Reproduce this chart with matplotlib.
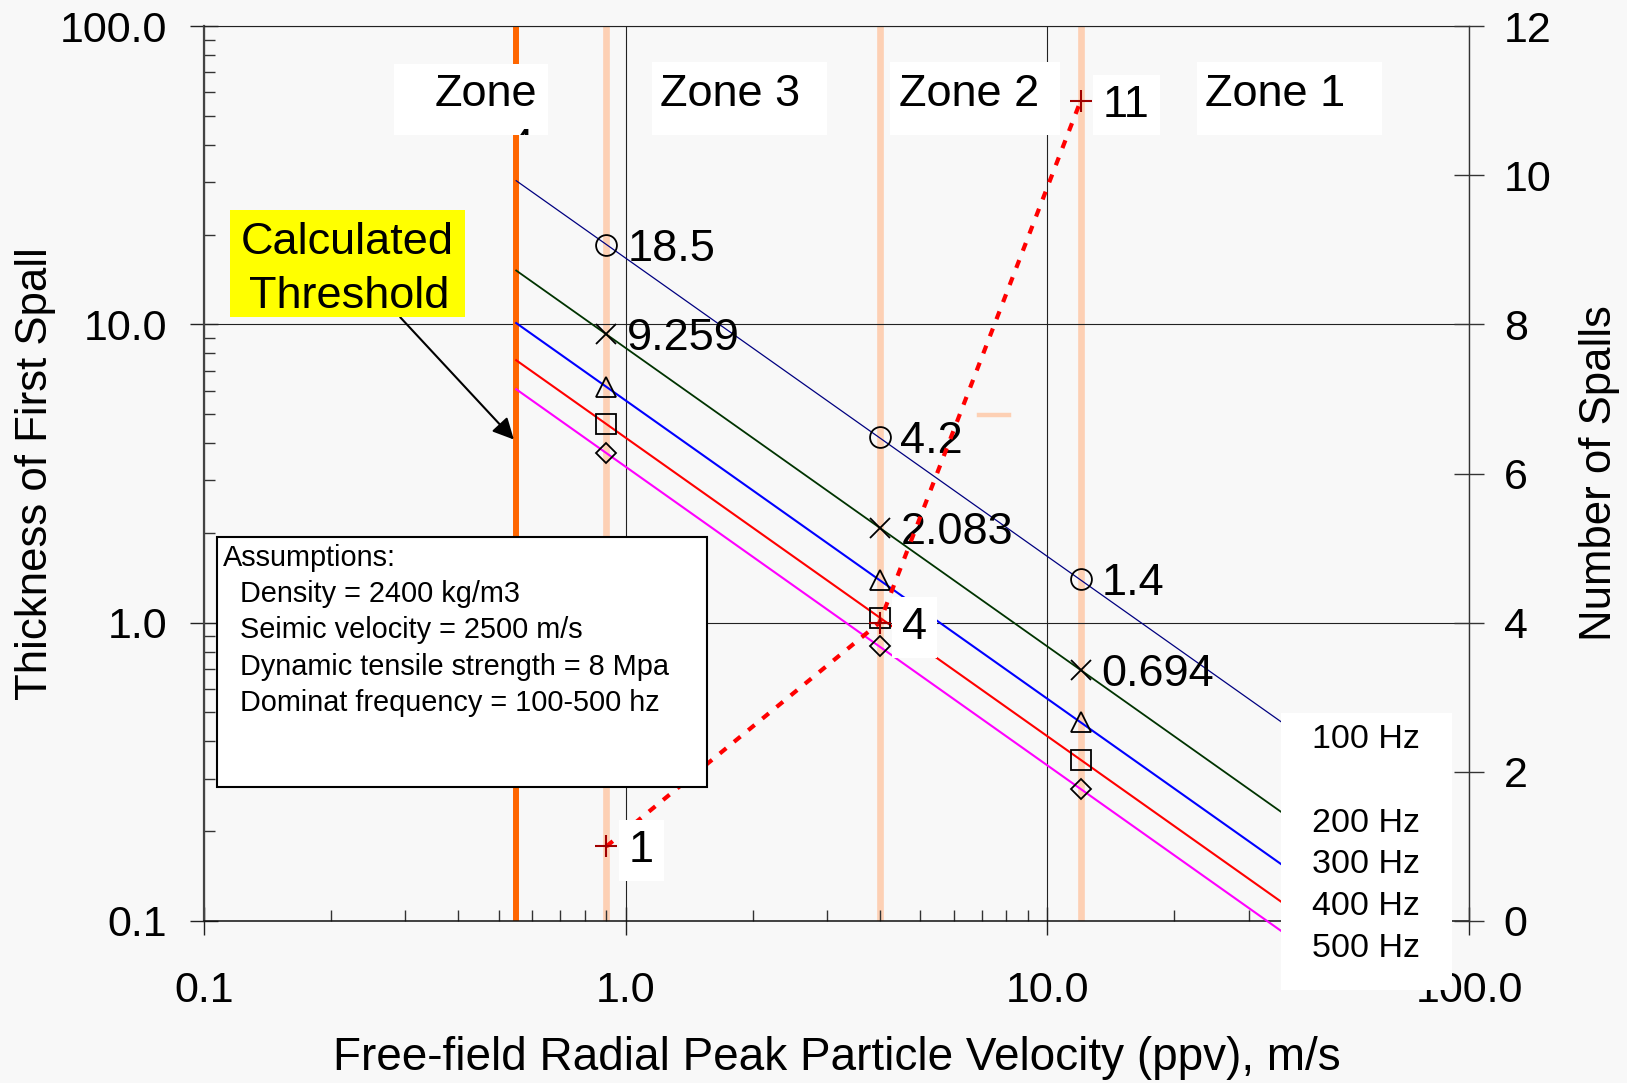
import matplotlib
matplotlib.use('Agg')
import matplotlib.pyplot as plt
from matplotlib.patches import Rectangle
from matplotlib.transforms import Bbox, TransformedBbox
from matplotlib.ticker import FixedLocator, FixedFormatter, LogLocator, NullFormatter

plt.rcParams['font.family'] = ['Liberation Sans', 'DejaVu Sans']

### Data

# particle velocities where spall thickness was evaluated (m/s)
ppv_points = [0.9, 4.0, 12.0]

# thickness of first spall at those velocities, per dominant frequency
thickness_100hz = [18.5, 4.2, 1.4]
thickness_200hz = [9.259, 2.083, 0.694]
thickness_300hz = [6.17, 1.39, 0.463]
thickness_400hz = [4.63, 1.04, 0.347]
thickness_500hz = [3.70, 0.833, 0.278]

labels_100hz = ['18.5', '4.2', '1.4']
labels_200hz = ['9.259', '2.083', '0.694']

# number of spalls (right axis)
n_spalls = [1, 4, 11]
spall_labels = ['1', '4', '11']

# the straight trend lines, start at threshold and run under the legend box
line_ppv = [0.55, 40.0]
line_100hz = [30.3, 0.417]
line_200hz = [15.15, 0.208]
line_300hz = [10.1, 0.139]
line_400hz = [7.58, 0.104]
line_500hz = [6.06, 0.083]

threshold_ppv = 0.55
zone_bounds = [0.9, 4.0, 12.0]
zone_names = ['Zone', 'Zone 3', 'Zone 2', 'Zone 1']
freq_names = ['100 Hz', '200 Hz', '300 Hz', '400 Hz', '500 Hz']

# small stray mark in the original
stray_ppv = [6.9, 8.1]
stray_thickness = [4.95, 4.95]

log_ticks = [0.1, 1.0, 10.0, 100.0]
log_tick_labels = ['0.1', '1.0', '10.0', '100.0']
spall_ticks = [0, 2, 4, 6, 8, 10, 12]

assumptions = ['Assumptions:',
               'Density = 2400 kg/m3',
               'Seimic velocity = 2500 m/s',
               'Dynamic tensile strength = 8 Mpa',
               'Dominat frequency = 100-500 hz']


### Figure set-up

W, H = 1627, 1083
bg = '#f8f8f8'
peach = '#fdd0b4'

def fx(x):
   return x / W

def fy(y):
   return 1 - y / H

def fig_box(x0, y0, x1, y1, **kw):
   r = Rectangle((fx(x0), fy(y1)), (x1 - x0) / W, (y1 - y0) / H,
                 transform = fig.transFigure, zorder = 5, **kw)
   fig.add_artist(r)
   return r

fig = plt.figure(figsize = (W / 100, H / 100), dpi = 100, facecolor = bg)
ax = fig.add_axes([fx(204), fy(921), (1469 - 204) / W, (921 - 26) / H])
ax.set_facecolor(bg)
ax.set_xscale('log')
ax.set_yscale('log')
ax.set_xlim(0.1, 100)
ax.set_ylim(0.1, 100)

ax2 = ax.twinx()
ax2.set_ylim(0, 12)

# ticks
for axis in [ax.xaxis, ax.yaxis]:
   axis.set_major_locator(FixedLocator(log_ticks))
   axis.set_major_formatter(FixedFormatter(log_tick_labels))
   axis.set_minor_locator(LogLocator(base = 10, subs = range(2, 10)))
   axis.set_minor_formatter(NullFormatter())
ax.tick_params(which = 'major', direction = 'inout', length = 20, width = 1,
               color = '#222222', labelsize = 31)
ax.tick_params(axis = 'x', which = 'major', pad = 26)
ax.tick_params(axis = 'y', which = 'major', pad = 16.5)
ax.tick_params(which = 'minor', direction = 'in', length = 8, width = 1, color = '#333333')

ax2.set_yticks(spall_ticks)
ax2.set_yticklabels([str(t) for t in spall_ticks])
ax2.tick_params(axis = 'y', direction = 'inout', length = 21, width = 1,
                color = '#333333', pad = 14.5, labelsize = 31)

ax.grid(which = 'major', color = '#222222', lw = 0.8)
ax.grid(which = 'minor', visible = False)

ax.spines['left'].set_color('#444444')
ax.spines['left'].set_linewidth(1.6)
ax.spines['bottom'].set_color('#111111')
ax.spines['bottom'].set_linewidth(1.1)
ax.spines['top'].set_color('#222222')
ax.spines['top'].set_linewidth(0.8)
ax.spines['right'].set_visible(False)
for s in ['left', 'top', 'bottom']:
   ax2.spines[s].set_visible(False)
ax2.spines['right'].set_color('#333333')
ax2.spines['right'].set_linewidth(1)

### Plot

ax.axvline(threshold_ppv, color = '#ff6600', lw = 4.3, zorder = 2.5)
for b in zone_bounds:
   ax.axvline(b, color = peach, lw = 4.8, zorder = 1)
ax.plot(stray_ppv, stray_thickness, color = peach, lw = 3.2, zorder = 1)

series = [(line_100hz, thickness_100hz, '#000080', 0.9, 'o', 15),
          (line_200hz, thickness_200hz, '#003300', 1.3, 'x', 15),
          (line_300hz, thickness_300hz, '#0000ff', 1.5, '^', 15),
          (line_400hz, thickness_400hz, '#ff0000', 1.5, 's', 14.5),
          (line_500hz, thickness_500hz, '#ff00ff', 1.5, 'D', 10.5)]
for line_vals, pts, colour, lw, marker, ms in series:
   ax.plot(line_ppv, line_vals, color = colour, lw = lw, clip_on = False, zorder = 3)
   ax.plot(ppv_points, pts, linestyle = 'none', marker = marker, ms = ms,
           mfc = 'none', mec = 'black', mew = 1.3, zorder = 4)

for pts, labs in [(thickness_100hz, labels_100hz), (thickness_200hz, labels_200hz)]:
   for x, y, lab in zip(ppv_points, pts, labs):
      ax.annotate(lab, (x, y), xytext = (15, -11.5), textcoords = 'offset points',
                  va = 'baseline', ha = 'left', fontsize = 32.5, zorder = 4)

# arrow from the threshold note to the orange line
ax.annotate('', xy = (0.543, 4.11), xytext = (0.292, 10.56),
            arrowprops = dict(arrowstyle = '-|>', color = 'black', lw = 1.5,
                              mutation_scale = 32, shrinkA = 0, shrinkB = 0))

# number of spalls
ax2.plot(ppv_points, n_spalls, color = '#ff0000', lw = 3, linestyle = (0, (2, 2.4)),
         dash_capstyle = 'butt', zorder = 2)
ax2.plot(ppv_points, n_spalls, linestyle = 'none', marker = '+', ms = 16,
         mew = 1.5, color = '#a00000', zorder = 3)
for x, n, lab in zip(ppv_points, n_spalls, spall_labels):
   ax2.annotate(lab, (x, n), xytext = (16, -11.5), textcoords = 'offset points',
                va = 'baseline', ha = 'left', fontsize = 32.5, zorder = 4,
                bbox = dict(boxstyle = 'square,pad=0.22', fc = 'white', ec = 'none'))

### Labels

ax.set_xlabel('Free-field Radial Peak Particle Velocity (ppv), m/s', fontsize = 33)
ax.xaxis.set_label_coords(0.5, (921 - 1070) / (921 - 26))
ax.xaxis.label.set_va('baseline')
ax.set_ylabel('Thickness of First Spall', fontsize = 31.5)
ax.yaxis.set_label_coords((36 - 204) / (1469 - 204), 0.5)
ax.yaxis.label.set_va('center')
ax2.set_ylabel('Number of Spalls', fontsize = 31.5, rotation = 90)
ax2.yaxis.set_label_coords((1600 - 204) / (1469 - 204), 0.5)
ax2.yaxis.label.set_va('center')

### Boxes on top of everything

zone_boxes = [(394, 64, 548, 135), (652, 62, 827, 135), (890, 62, 1060, 135), (1197, 62, 1382, 135)]
zone_text_x = [435, 660, 899, 1205]
for (x0, y0, x1, y1), tx, name in zip(zone_boxes, zone_text_x, zone_names):
   fig_box(x0, y0, x1, y1, fc = 'white', ec = 'none')
   fig.text(fx(tx), fy(106), name, fontsize = 32.5, va = 'baseline', zorder = 6)
# the "4" of Zone 4 wraps and is cut off by its box
t = fig.text(fx(509), fy(160), '4', fontsize = 32.5, va = 'baseline', zorder = 6)
t.set_clip_box(TransformedBbox(Bbox.from_extents(fx(394), fy(135), fx(548), fy(64)), fig.transFigure))

fig_box(230, 210, 465, 317, fc = '#ffff00', ec = 'none')
fig.text(fx(347), fy(254), 'Calculated', fontsize = 32.5, ha = 'center', va = 'baseline', zorder = 6)
fig.text(fx(349), fy(308), 'Threshold', fontsize = 32.5, ha = 'center', va = 'baseline', zorder = 6)

fig_box(217, 537, 707, 787, fc = 'white', ec = 'black', lw = 1.5)
assump_y = [566, 602, 638, 675, 711]
for i, (line, y) in enumerate(zip(assumptions, assump_y)):
   fig.text(fx(223 if i == 0 else 240), fy(y), line, fontsize = 20.8, va = 'baseline', zorder = 6)

fig_box(1281, 713, 1452, 990, fc = 'white', ec = 'none')
freq_y = [748, 832, 873, 915, 957]
for name, y in zip(freq_names, freq_y):
   fig.text(fx(1312), fy(y), name, fontsize = 24.5, va = 'baseline', zorder = 6)

fig.savefig('out.png', dpi = 100, facecolor = bg)
